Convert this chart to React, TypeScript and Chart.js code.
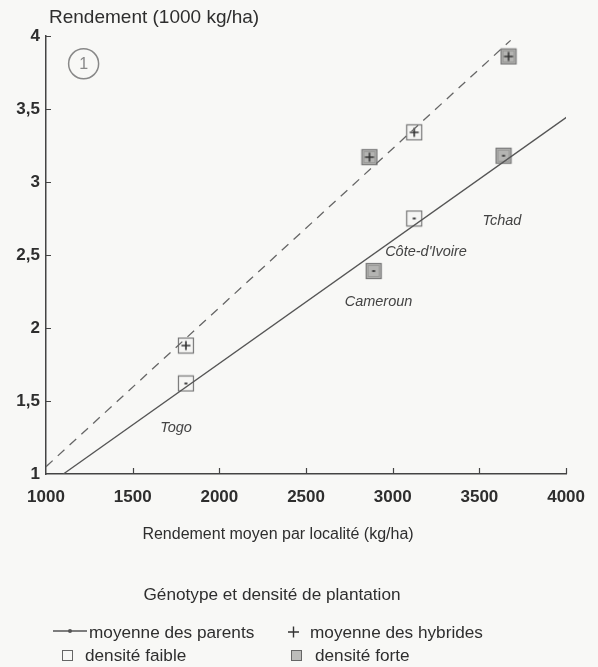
import React, { useEffect, useRef } from "react";
import { Chart, registerables } from "chart.js";
Chart.register(...registerables);

const xTicks = [1000, 1500, 2000, 2500, 3000, 3500, 4000];
const yTicks = [1, 1.5, 2, 2.5, 3, 3.5, 4];
const parentLine = [{ x: 1100, y: 1 }, { x: 4010, y: 3.45 }];
const hybridLine = [{ x: 1000, y: 1.05 }, { x: 3680, y: 3.97 }];
const parentLow = [{ x: 1807, y: 1.62 }, { x: 3124, y: 2.75 }];
const parentHigh = [{ x: 2890, y: 2.39 }, { x: 3639, y: 3.18 }];
const hybridLow = [{ x: 1807, y: 1.88 }, { x: 3124, y: 3.34 }];
const hybridHigh = [{ x: 2866, y: 3.17 }, { x: 3668, y: 3.86 }];
const countries = ["Togo", "Cameroun", "Côte-d'Ivoire", "Tchad"];
const countryAnchors = [
  { x: 1750, y: 1.315 },
  { x: 2918, y: 2.18 },
  { x: 3192, y: 2.52 },
  { x: 3630, y: 2.73 },
];
const yTitle = "Rendement (1000 kg/ha)";
const xTitle = "Rendement moyen par localité (kg/ha)";
const legendTitle = "Génotype et densité de plantation";
const legendLabels = ["moyenne des parents", "moyenne des hybrides", "densité faible", "densité forte"];
const panelNumber = "1";

const FONT = '"Liberation Sans", Arial, sans-serif';
const TEXT = "#2e2e2e";

function makeMarker(filled: boolean, plus: boolean) {
  const s = 18;
  const c = document.createElement("canvas");
  c.width = s;
  c.height = s;
  const g = c.getContext("2d")!;
  g.fillStyle = filled ? "#b4b4b2" : "#f6f6f4";
  g.fillRect(1, 1, s - 2, s - 2);
  g.strokeStyle = "#777";
  g.lineWidth = 1.2;
  g.strokeRect(1.5, 1.5, s - 3, s - 3);
  if (filled) {
    g.strokeStyle = "#9a9a98";
    g.lineWidth = 1;
    g.strokeRect(3.5, 3.5, s - 7, s - 7);
  }
  g.strokeStyle = "#333";
  g.fillStyle = "#444";
  if (plus) {
    g.lineWidth = 1.6;
    g.beginPath();
    g.moveTo(s / 2 - 4.5, s / 2);
    g.lineTo(s / 2 + 4.5, s / 2);
    g.moveTo(s / 2, s / 2 - 4.5);
    g.lineTo(s / 2, s / 2 + 4.5);
    g.stroke();
  } else {
    g.fillRect(s / 2 - 1.5, s / 2 - 1, 3, 2);
  }
  return c;
}

const decoPlugin = {
  id: "deco",
  beforeDraw(chart: any) {
    const { ctx, width, height } = chart;
    ctx.save();
    ctx.fillStyle = "#f8f8f6";
    ctx.fillRect(0, 0, width, height);
    ctx.restore();
  },
  afterDraw(chart: any) {
    const { ctx } = chart;
    const xs = chart.scales.x;
    const ys = chart.scales.y;
    const area = chart.chartArea;
    ctx.save();
    // inward tick marks
    ctx.strokeStyle = "#444";
    ctx.lineWidth = 1.2;
    ctx.beginPath();
    xTicks.forEach((v) => {
      if (v === xTicks[0]) return;
      const px = Math.round(xs.getPixelForValue(v)) + 0.5;
      ctx.moveTo(px, area.bottom);
      ctx.lineTo(px, area.bottom - 6);
    });
    yTicks.forEach((v) => {
      if (v === yTicks[0]) return;
      const py = Math.round(ys.getPixelForValue(v)) + 0.5;
      ctx.moveTo(area.left, py);
      ctx.lineTo(area.left + 5, py);
    });
    ctx.stroke();

    // titles
    ctx.fillStyle = TEXT;
    ctx.textBaseline = "middle";
    ctx.textAlign = "left";
    ctx.font = `19px ${FONT}`;
    ctx.fillText(yTitle, 49, 18);
    ctx.textAlign = "center";
    ctx.font = `16px ${FONT}`;
    ctx.fillText(xTitle, 278, 535);
    ctx.font = `17.2px ${FONT}`;
    ctx.fillText(legendTitle, 272, 595);

    // country labels
    ctx.fillStyle = "#444";
    ctx.font = `italic 14.5px ${FONT}`;
    countries.forEach((name, i) => {
      const a = countryAnchors[i];
      ctx.fillText(name, xs.getPixelForValue(a.x), ys.getPixelForValue(a.y));
    });

    // panel number circle
    const cx = xs.getPixelForValue(1217);
    const cy = ys.getPixelForValue(3.81);
    ctx.strokeStyle = "#888";
    ctx.lineWidth = 1.5;
    ctx.beginPath();
    ctx.arc(cx, cy, 15, 0, Math.PI * 2);
    ctx.stroke();
    ctx.fillStyle = "#888";
    ctx.font = `16px ${FONT}`;
    ctx.fillText(panelNumber, cx, cy + 1);

    // legend
    ctx.textAlign = "left";
    ctx.fillStyle = TEXT;
    ctx.font = `17.2px ${FONT}`;
    // row 1
    ctx.strokeStyle = "#555";
    ctx.lineWidth = 1.3;
    ctx.beginPath();
    ctx.moveTo(53, 631);
    ctx.lineTo(87, 631);
    ctx.stroke();
    ctx.fillStyle = "#555";
    ctx.beginPath();
    ctx.arc(70, 631, 2, 0, Math.PI * 2);
    ctx.fill();
    ctx.fillStyle = TEXT;
    ctx.fillText(legendLabels[0], 89, 633);
    ctx.strokeStyle = "#333";
    ctx.lineWidth = 1.4;
    ctx.beginPath();
    ctx.moveTo(288, 632);
    ctx.lineTo(299, 632);
    ctx.moveTo(293.5, 626.5);
    ctx.lineTo(293.5, 637.5);
    ctx.stroke();
    ctx.fillText(legendLabels[1], 310, 633);
    // row 2
    ctx.strokeStyle = "#666";
    ctx.lineWidth = 1;
    ctx.fillStyle = "#f8f8f6";
    ctx.fillRect(62.5, 650.5, 10, 10);
    ctx.strokeRect(62.5, 650.5, 10, 10);
    ctx.fillStyle = TEXT;
    ctx.fillText(legendLabels[2], 85, 656);
    ctx.fillStyle = "#bcbcba";
    ctx.fillRect(291.5, 650.5, 10, 10);
    ctx.strokeRect(291.5, 650.5, 10, 10);
    ctx.fillStyle = TEXT;
    ctx.fillText(legendLabels[3], 315, 656);
    ctx.restore();
  },
};

export default function App() {
  const ref = useRef<HTMLCanvasElement | null>(null);
  useEffect(() => {
    if (!ref.current) return;
    const mOpenDot = makeMarker(false, false);
    const mFillDot = makeMarker(true, false);
    const mOpenPlus = makeMarker(false, true);
    const mFillPlus = makeMarker(true, true);
    const chart = new Chart(ref.current, {
      type: "scatter",
      data: {
        datasets: [
          {
            label: "parents",
            data: parentLine,
            showLine: true,
            borderColor: "#555",
            borderWidth: 1.3,
            pointRadius: 0,
          },
          {
            label: "hybrides",
            data: hybridLine,
            showLine: true,
            borderColor: "#666",
            borderWidth: 1.3,
            borderDash: [9, 7],
            pointRadius: 0,
          },
          { label: "parents faible", data: parentLow, pointStyle: mOpenDot as any, pointRadius: 9 },
          { label: "parents forte", data: parentHigh, pointStyle: mFillDot as any, pointRadius: 9 },
          { label: "hybrides faible", data: hybridLow, pointStyle: mOpenPlus as any, pointRadius: 9 },
          { label: "hybrides forte", data: hybridHigh, pointStyle: mFillPlus as any, pointRadius: 9 },
        ],
      },
      options: {
        animation: false,
        responsive: false,
        maintainAspectRatio: false,
        layout: { padding: { top: 36, right: 28, left: 0, bottom: 0 } },
        plugins: { legend: { display: false }, tooltip: { enabled: false }, title: { display: false } },
        scales: {
          x: {
            type: "linear",
            min: 1000,
            max: 4000,
            afterFit: (a: any) => {
              a.height = 193;
            },
            afterBuildTicks: (a: any) => {
              a.ticks = xTicks.map((v) => ({ value: v }));
            },
            grid: { display: false, drawTicks: false },
            border: { display: true, color: "#444", width: 1.5 },
            ticks: {
              color: TEXT,
              padding: 13,
              font: { family: FONT, size: 17, weight: "bold" },
              callback: (v: any) => String(v),
            },
          },
          y: {
            type: "linear",
            min: 1,
            max: 4,
            afterFit: (a: any) => {
              a.width = 46;
            },
            afterBuildTicks: (a: any) => {
              a.ticks = yTicks.map((v) => ({ value: v }));
            },
            grid: { display: false, drawTicks: false },
            border: { display: true, color: "#444", width: 1.5 },
            ticks: {
              color: TEXT,
              padding: 6,
              font: { family: FONT, size: 17, weight: "bold" },
              callback: (v: any) => String(v).replace(".", ","),
            },
          },
        },
      },
      plugins: [decoPlugin],
    });
    return () => chart.destroy();
  }, []);
  return (
    <div style={{ position: "fixed", left: 0, top: 0, width: 598, height: 667 }}>
      <canvas ref={ref} width={598} height={667} style={{ width: 598, height: 667, display: "block" }} />
    </div>
  );
}
